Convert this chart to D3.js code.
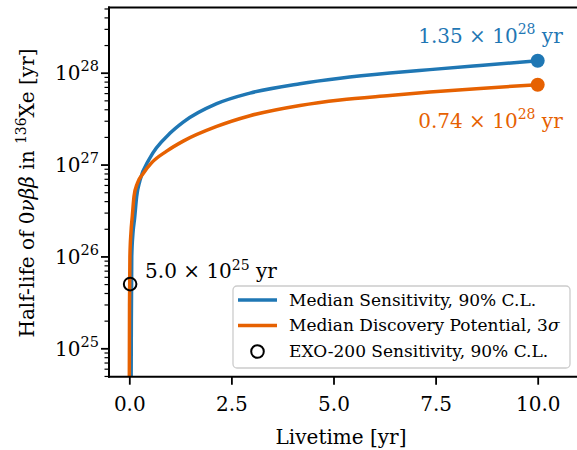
<!DOCTYPE html>
<html>
<head>
<meta charset="utf-8">
<script src="https://cdn.jsdelivr.net/npm/d3@7/dist/d3.min.js"></script>
<style>
  html, body { margin: 0; padding: 0; background: #fff; }
  svg { display: block; }
  text { font-family: "DejaVu Serif", serif; fill: #000; }
</style>
</head>
<body>
<svg id="chart" width="577" height="450"></svg>
<script>
// ---------------- data ----------------
const sensT = [0.045, 0.05, 0.06, 0.09, 0.13, 0.18, 0.26, 0.49, 1.0, 1.32, 2.14, 2.955, 4.18, 5.16, 6.38, 7.36, 8.59, 10];
const sensV = [4.0e24, 2e25, 1e26, 1.8e26, 2.6e26, 4.5e26, 6.7e26, 1.15e27, 2.2e27, 2.9e27, 4.6e27, 6.0e27, 7.6e27, 8.7e27, 9.9e27, 1.08e28, 1.2e28, 1.35e28];
const discT = [0.0, 0.005, 0.015, 0.04, 0.075, 0.115, 0.2, 0.34, 0.55, 0.915, 1.32, 2.14, 2.955, 4.18, 5.16, 6.38, 7.36, 8.59, 10];
const discV = [4.0e24, 3e25, 1e26, 1.8e26, 2.8e26, 4.5e26, 6.3e26, 8e26, 1.05e27, 1.4e27, 1.8e27, 2.6e27, 3.4e27, 4.4e27, 5.05e27, 5.65e27, 6.15e27, 6.75e27, 7.4e27];
const exoT = [0.02];
const exoV = [5.0e25];
const xTicks = [0, 2.5, 5, 7.5, 10];
const xTickLabels = ["0.0", "2.5", "5.0", "7.5", "10.0"];
const yTicks = [1e25, 1e26, 1e27, 1e28];
const yTickExps = ["25", "26", "27", "28"];
const legendLabels = ["Median Sensitivity, 90% C.L.", "Median Discovery Potential, 3", "EXO-200 Sensitivity, 90% C.L."];

// ---------------- layout ----------------
const svg = d3.select("#chart");
const pL = 109, pR = 580, pT = 7.5, pB = 376.7;
const blue = "#1f77b4", orange = "#e66101";

const x = d3.scaleLinear().domain([0, 10]).range([129.3, 537.7]);
const y = d3.scaleLog().domain([1e25, 1e28]).range([348.3, 72.7]);

svg.append("defs").append("clipPath").attr("id", "clip")
  .append("rect").attr("x", pL).attr("y", pT).attr("width", pR - pL).attr("height", pB - pT);

// curves
const line = d3.line().x(d => x(d[0])).y(d => y(d[1])).curve(d3.curveMonotoneX);
const plot = svg.append("g").attr("clip-path", "url(#clip)");
plot.append("path").datum(sensT.map((t, i) => [t, sensV[i]]))
  .attr("d", line).attr("fill", "none").attr("stroke", blue).attr("stroke-width", 3.5).attr("stroke-linejoin", "round");
plot.append("path").datum(discT.map((t, i) => [t, discV[i]]))
  .attr("d", line).attr("fill", "none").attr("stroke", orange).attr("stroke-width", 3.5).attr("stroke-linejoin", "round");

// end dots
const lastS = sensT.length - 1, lastD = discT.length - 1;
svg.append("circle").attr("cx", x(sensT[lastS])).attr("cy", y(sensV[lastS])).attr("r", 7).attr("fill", blue);
svg.append("circle").attr("cx", x(discT[lastD])).attr("cy", y(discV[lastD])).attr("r", 7).attr("fill", orange);

// EXO point
svg.selectAll(".exo").data(exoT).enter().append("circle")
  .attr("cx", (d) => x(d)).attr("cy", (d, i) => y(exoV[i])).attr("r", 6.3)
  .attr("fill", "none").attr("stroke", "#000").attr("stroke-width", 2);

// helper for "a × 10^e yr"
function sciText(g, mant, exp, color, size) {
  const t = g.append("text").attr("font-size", size).style("fill", color);
  t.append("tspan").text(mant + " × 10");
  t.append("tspan").attr("dy", -size * 0.42).attr("font-size", size * 0.7).text(exp);
  t.append("tspan").attr("dy", size * 0.42).text(" yr");
  return t;
}

// annotations
sciText(svg, "1.35", "28", blue, 20)
  .attr("x", x(10) + 25).attr("y", y(sensV[lastS]) - 18).attr("text-anchor", "end");
sciText(svg, "0.74", "28", orange, 20)
  .attr("x", x(10) + 25).attr("y", y(discV[lastD]) + 43).attr("text-anchor", "end");
sciText(svg, "5.0", "25", "#000", 20)
  .attr("x", x(exoT[0]) + 15).attr("y", y(exoV[0]) - 6).attr("text-anchor", "start");

// x axis
const xAxis = d3.axisBottom(x).tickValues(xTicks).tickSize(8).tickPadding(12)
  .tickFormat((d, i) => xTickLabels[i]);
const gx = svg.append("g").attr("transform", `translate(0,${pB})`).call(xAxis);
gx.select(".domain").remove();
gx.selectAll("line").attr("stroke-width", 1.8);
gx.selectAll("text").attr("font-size", 20).style("font-family", "DejaVu Serif");

// y axis major
const yAxis = d3.axisLeft(y).tickValues(yTicks).tickSize(8).tickPadding(5).tickFormat("");
const gy = svg.append("g").attr("transform", `translate(${pL},0)`).call(yAxis);
gy.select(".domain").remove();
gy.selectAll("line").attr("stroke-width", 1.8);
gy.selectAll(".tick").append("text")
  .attr("x", -10).attr("dy", "0.36em").attr("text-anchor", "end")
  .attr("font-size", 20).style("font-family", "DejaVu Serif").style("fill", "#000")
  .each(function (d, i) {
    const t = d3.select(this);
    t.append("tspan").text("10");
    t.append("tspan").attr("dy", -9).attr("font-size", 14.5).text(yTickExps[i]);
  });

// y minor ticks
const minor = [];
for (let e = 24; e <= 28; e++) for (let k = 2; k <= 9; k++) {
  const v = k * Math.pow(10, e);
  const py = y(v);
  if (py >= pT && py <= pB) minor.push(v);
}
const yMinor = d3.axisLeft(y).tickValues(minor).tickSize(4.5).tickFormat("");
const gym = svg.append("g").attr("transform", `translate(${pL},0)`).call(yMinor);
gym.select(".domain").remove();
gym.selectAll("line").attr("stroke-width", 1.2);

// spines
svg.append("line").attr("x1", pL).attr("x2", pL).attr("y1", pT).attr("y2", pB).attr("stroke", "#000").attr("stroke-width", 2).attr("stroke-linecap", "square");
svg.append("line").attr("x1", pL).attr("x2", pR).attr("y1", pB).attr("y2", pB).attr("stroke", "#000").attr("stroke-width", 2).attr("stroke-linecap", "square");
svg.append("line").attr("x1", pL).attr("x2", pR).attr("y1", pT).attr("y2", pT).attr("stroke", "#000").attr("stroke-width", 2).attr("stroke-linecap", "square");

// axis labels
svg.append("text").attr("x", 341).attr("y", 444).attr("text-anchor", "middle").attr("font-size", 20).text("Livetime [yr]");
const yl = svg.append("text").attr("transform", "translate(34,193) rotate(-90)").attr("text-anchor", "middle").attr("font-size", 20);
yl.append("tspan").text("Half-life of 0");
yl.append("tspan").style("font-style", "italic").text("νββ");
yl.append("tspan").text(" in ");
yl.append("tspan").attr("dy", -8).attr("font-size", 14).text("136");
yl.append("tspan").attr("dy", 8).text("Xe [yr]");

// legend
const lg = svg.append("g");
lg.append("rect").attr("x", 233).attr("y", 286).attr("width", 337).attr("height", 82).attr("rx", 4)
  .attr("fill", "#fff").attr("fill-opacity", 0.8).attr("stroke", "#cccccc").attr("stroke-width", 1.3);
const rows = [300, 325.5, 351.5];
lg.append("line").attr("x1", 238).attr("x2", 277).attr("y1", rows[0]).attr("y2", rows[0]).attr("stroke", blue).attr("stroke-width", 3.5);
lg.append("line").attr("x1", 238).attr("x2", 277).attr("y1", rows[1]).attr("y2", rows[1]).attr("stroke", orange).attr("stroke-width", 3.5);
lg.append("circle").attr("cx", 257.5).attr("cy", rows[2]).attr("r", 6.3).attr("fill", "none").attr("stroke", "#000").attr("stroke-width", 2);
legendLabels.forEach((s, i) => {
  const t = lg.append("text").attr("x", 289).attr("y", rows[i]).attr("dy", "0.35em").attr("font-size", 17).text(s);
  if (i === 1) t.append("tspan").style("font-style", "italic").text("σ");
});
</script>
</body>
</html>
